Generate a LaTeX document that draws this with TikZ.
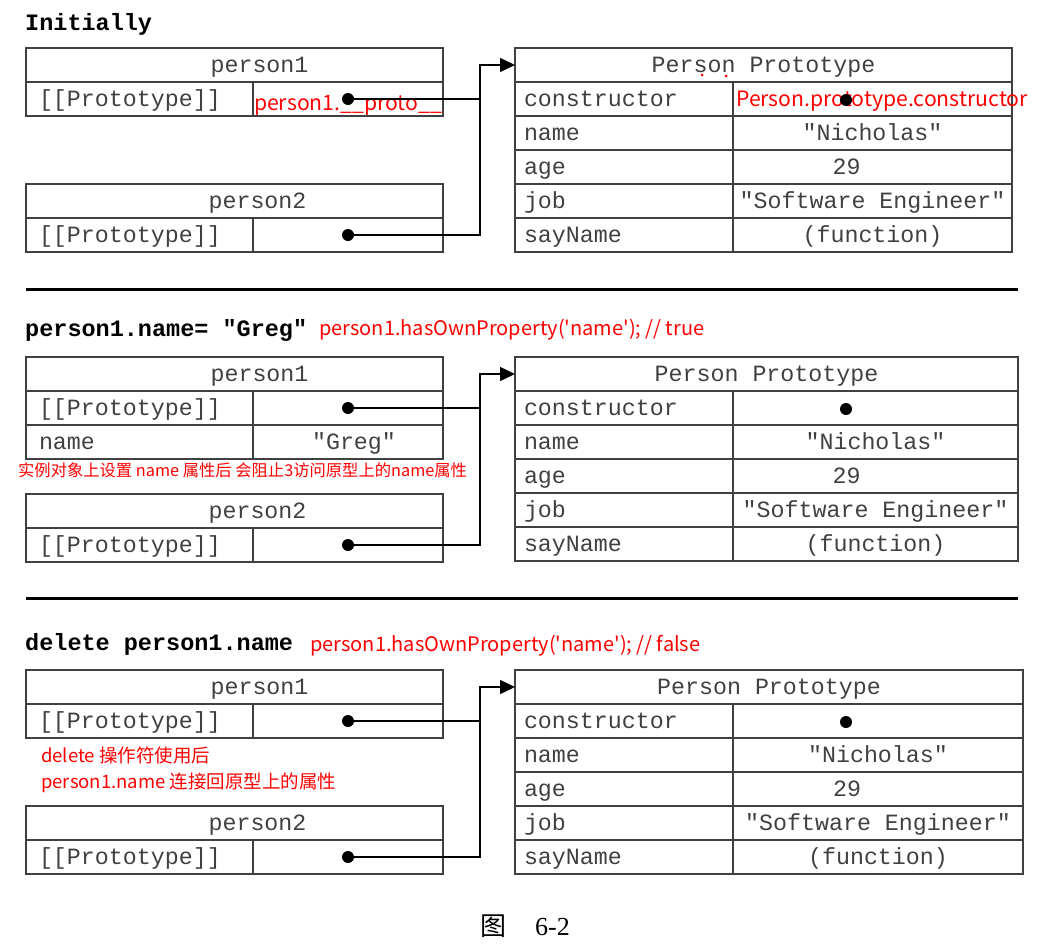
\documentclass[tikz,border=0pt]{standalone}
\usepackage{fontspec}
\setmainfont{Liberation Serif}
\setmonofont{Liberation Mono}
\newfontfamily\redfont{Noto Sans CJK SC}
\newfontfamily\cjk{Noto Sans CJK SC}
\usepackage{tikz}
\usetikzlibrary{positioning}
\usetikzlibrary{arrows.meta}
\definecolor{cellgray}{HTML}{404040}
\definecolor{linegray}{HTML}{404040}

\begin{document}
\begin{tikzpicture}[x=1pt, y=-1pt,
  cell/.style={draw=linegray, rectangle, line width=1.6pt, outer sep=0pt, minimum height=34pt, inner ysep=0pt, text height=19pt, text depth=5pt, text=cellgray, font=\fontsize{23.3}{28}\ttfamily},
  head/.style={cell, inner xsep=0pt},
  key/.style={cell, inner xsep=13pt, text width=201pt, align=left},
  pkey/.style={cell, inner xsep=9pt, text width=200pt, align=left},
  val/.style={cell, inner xsep=0pt},
  dot/.style={circle, fill=black, inner sep=0pt, minimum size=12pt},
  link/.style={line width=1.4pt},
  arr/.style={-{Triangle[length=15pt, width=14pt]}},
  note/.style={text=red, font=\fontsize{20}{24}\redfont, inner sep=0pt},
  bignote/.style={note, font=\fontsize{21.2}{25}\redfont},
  smallnote/.style={note, font=\fontsize{16.3}{19}\redfont},
  midnote/.style={note, font=\fontsize{18.5}{22}\redfont},
  title/.style={font=\fontsize{23.5}{28}\ttfamily\bfseries, inner sep=0pt},
  rule/.style={line width=3pt}]
\useasboundingbox (0,0) rectangle (1047,945);

\node at (25,30) [title, anchor=base west, name=t1]{Initially};

\node at (234.5,65) [head, name=pa1, minimum width=417pt]{\hspace*{50pt}person1};
\node [key, name=pa1k, below right=0pt and 0pt of pa1.south west]{[[Prototype]]};
\node [val, name=pa1v, minimum width=190pt, right=0pt of pa1k]{};
\node at (348,110) [bignote, anchor=base, name=n1]{person1.\_\_proto\_\_};
\node at (pa1v.center) [dot, name=da1]{};

\node at (234.5,201) [head, name=pb1, minimum width=417pt]{\hspace*{46pt}person2};
\node [key, name=pb1k, below right=0pt and 0pt of pb1.south west]{[[Prototype]]};
\node [val, name=pb1v, minimum width=190pt, right=0pt of pb1k]{};
\node at (pb1v.center) [dot, name=db1]{};

\node at (763.5,65) [head, name=pp1, minimum width=497pt]{Person Prototype};
\node [pkey, name=pp1a, below right=0pt and 0pt of pp1.south west]{constructor};
\node [val, name=pp1av, minimum width=279pt, right=0pt of pp1a]{};
\node [pkey, name=pp1b, below right=0pt and 0pt of pp1a.south west]{name};
\node [val, name=pp1bv, minimum width=279pt, right=0pt of pp1b]{"Nicholas"};
\node [pkey, name=pp1c, below right=0pt and 0pt of pp1b.south west]{age};
\node [val, name=pp1cv, minimum width=279pt, right=0pt of pp1c]{29\hspace*{52pt}};
\node [pkey, name=pp1d, below right=0pt and 0pt of pp1c.south west]{job};
\node [val, name=pp1dv, minimum width=279pt, right=0pt of pp1d]{"Software Engineer"};
\node [pkey, name=pp1e, below right=0pt and 0pt of pp1d.south west]{sayName};
\node [val, name=pp1ev, minimum width=279pt, right=0pt of pp1e]{(function)};
\node at (736,106) [bignote, anchor=base west, name=n2]{Person.prototype.constructor};
\node at (846,100) [dot, name=dc1]{};
\fill[red] (702,75) circle (1.5);
\fill[red] (726,76) circle (1.5);

\coordinate (j1) at ([xshift=132pt]da1.center);
\draw[link] (da1) -- (j1);
\draw[link, arr] (db1) -| (j1) |- (pp1.west);

\draw[rule] (26,289) -- (1018,289);

\node at (25,336) [title, anchor=base west, name=t2]{person1.name= "Greg"};
\node at (319,335) [note, anchor=base west, name=n3]{person1.hasOwnProperty(\textquotesingle name\textquotesingle); // true};

\node at (234.5,374) [head, name=pa2, minimum width=417pt]{\hspace*{50pt}person1};
\node [key, name=pa2k, below right=0pt and 0pt of pa2.south west]{[[Prototype]]};
\node [val, name=pa2v, minimum width=190pt, right=0pt of pa2k]{};
\node at (pa2v.center) [dot, name=da2]{};
\node [key, name=pa2n, below right=0pt and 0pt of pa2k.south west]{name};
\node [val, name=pa2nv, minimum width=190pt, right=0pt of pa2n]{\hspace*{12pt}"Greg"};
\node at (18,476) [smallnote, anchor=base west, name=n4]{实例对象上设置 name 属性后 会阻止3访问原型上的name属性};

\node at (234.5,511) [head, name=pb2, minimum width=417pt]{\hspace*{46pt}person2};
\node [key, name=pb2k, below right=0pt and 0pt of pb2.south west]{[[Prototype]]};
\node [val, name=pb2v, minimum width=190pt, right=0pt of pb2k]{};
\node at (pb2v.center) [dot, name=db2]{};

\node at (766.5,374) [head, name=pp2, minimum width=503pt]{Person Prototype};
\node [pkey, name=pp2a, below right=0pt and 0pt of pp2.south west]{constructor};
\node [val, name=pp2av, minimum width=285pt, right=0pt of pp2a]{};
\node [pkey, name=pp2b, below right=0pt and 0pt of pp2a.south west]{name};
\node [val, name=pp2bv, minimum width=285pt, right=0pt of pp2b]{"Nicholas"};
\node [pkey, name=pp2c, below right=0pt and 0pt of pp2b.south west]{age};
\node [val, name=pp2cv, minimum width=285pt, right=0pt of pp2c]{29\hspace*{58pt}};
\node [pkey, name=pp2d, below right=0pt and 0pt of pp2c.south west]{job};
\node [val, name=pp2dv, minimum width=285pt, right=0pt of pp2d]{"Software Engineer"};
\node [pkey, name=pp2e, below right=0pt and 0pt of pp2d.south west]{sayName};
\node [val, name=pp2ev, minimum width=285pt, right=0pt of pp2e]{(function)};
\node at (846,409) [dot, name=dc2]{};

\coordinate (j2) at ([xshift=132pt]da2.center);
\draw[link] (da2) -- (j2);
\draw[link, arr] (db2) -| (j2) |- (pp2.west);

\draw[rule] (26,598) -- (1018,598);

\node at (25,650) [title, anchor=base west, name=t3]{delete person1.name};
\node at (310,651) [note, anchor=base west, name=n5]{person1.hasOwnProperty(\textquotesingle name\textquotesingle); // false};

\node at (234.5,687) [head, name=pa3, minimum width=417pt]{\hspace*{50pt}person1};
\node [key, name=pa3k, below right=0pt and 0pt of pa3.south west]{[[Prototype]]};
\node [val, name=pa3v, minimum width=190pt, right=0pt of pa3k]{};
\node at (pa3v.center) [dot, name=da3]{};
\node at (41,762) [midnote, anchor=base west, name=n6]{delete 操作符使用后};
\node at (41,788) [midnote, anchor=base west, name=n7]{person1.name 连接回原型上的属性};

\node at (234.5,823) [head, name=pb3, minimum width=417pt]{\hspace*{46pt}person2};
\node [key, name=pb3k, below right=0pt and 0pt of pb3.south west]{[[Prototype]]};
\node [val, name=pb3v, minimum width=190pt, right=0pt of pb3k]{};
\node at (pb3v.center) [dot, name=db3]{};

\node at (769,687) [head, name=pp3, minimum width=508pt]{Person Prototype};
\node [pkey, name=pp3a, below right=0pt and 0pt of pp3.south west]{constructor};
\node [val, name=pp3av, minimum width=290pt, right=0pt of pp3a]{};
\node [pkey, name=pp3b, below right=0pt and 0pt of pp3a.south west]{name};
\node [val, name=pp3bv, minimum width=290pt, right=0pt of pp3b]{"Nicholas"};
\node [pkey, name=pp3c, below right=0pt and 0pt of pp3b.south west]{age};
\node [val, name=pp3cv, minimum width=290pt, right=0pt of pp3c]{29\hspace*{62pt}};
\node [pkey, name=pp3d, below right=0pt and 0pt of pp3c.south west]{job};
\node [val, name=pp3dv, minimum width=290pt, right=0pt of pp3d]{"Software Engineer"};
\node [pkey, name=pp3e, below right=0pt and 0pt of pp3d.south west]{sayName};
\node [val, name=pp3ev, minimum width=290pt, right=0pt of pp3e]{(function)};
\node at (846,722) [dot, name=dc3]{};

\coordinate (j3) at ([xshift=132pt]da3.center);
\draw[link] (da3) -- (j3);
\draw[link, arr] (db3) -| (j3) |- (pp3.west);

\node at (480,935) [anchor=base west, inner sep=0pt, font=\fontsize{26}{30}\rmfamily, name=cap]{{\cjk 图}\hspace{29pt}6-2};
\end{tikzpicture}
\end{document}
